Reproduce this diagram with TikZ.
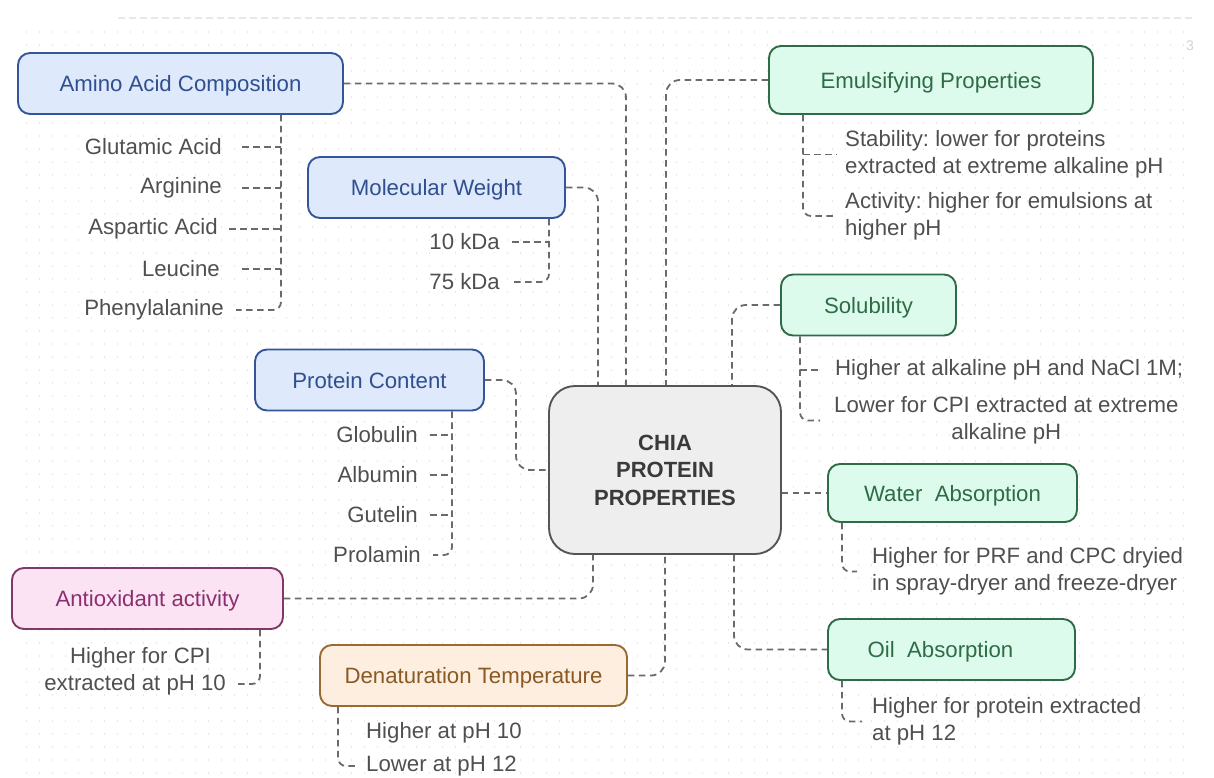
\documentclass[tikz,border=0pt]{standalone}
\usepackage{fontspec}
\setmainfont{Liberation Sans}
\definecolor{blueFill}{HTML}{DFE9FC}
\definecolor{blueLine}{HTML}{34559A}
\definecolor{blueText}{HTML}{2F4F8F}
\definecolor{greenFill}{HTML}{DDFBEC}
\definecolor{greenLine}{HTML}{2F6B47}
\definecolor{greenText}{HTML}{2F6B47}
\definecolor{pinkFill}{HTML}{FCE3F3}
\definecolor{pinkLine}{HTML}{7E3A66}
\definecolor{pinkText}{HTML}{8A3070}
\definecolor{peachFill}{HTML}{FDEEDF}
\definecolor{peachLine}{HTML}{9A6A33}
\definecolor{peachText}{HTML}{8A5A25}
\definecolor{hubFill}{HTML}{EEEEEE}
\definecolor{hubLine}{HTML}{555555}
\definecolor{hubText}{HTML}{3A3A3A}
\definecolor{leafText}{HTML}{4F4F4F}
\definecolor{wireGray}{HTML}{6A6A6A}
\definecolor{dotGray}{HTML}{E8E8E8}
\frenchspacing
\begin{document}
\begin{tikzpicture}[x=1pt,y=-1pt,
  font=\fontsize{22.2}{27}\selectfont,
  topic/.style={draw, line width=1.9pt, rounded corners=12pt, minimum height=61pt, inner sep=0pt, text depth=0pt},
  bluebox/.style={topic, fill=blueFill, draw=blueLine, text=blueText},
  greenbox/.style={topic, fill=greenFill, draw=greenLine, text=greenText},
  pinkbox/.style={topic, fill=pinkFill, draw=pinkLine, text=pinkText},
  peachbox/.style={topic, fill=peachFill, draw=peachLine, text=peachText},
  hub/.style={draw=hubLine, fill=hubFill, line width=1.9pt, rounded corners=26pt,
    text=hubText, font=\fontsize{22}{27.5}\selectfont\bfseries, align=center,
    minimum width=232pt, minimum height=168pt, inner sep=0pt},
  leaf/.style={text=leafText, inner sep=0pt},
  conn/.style={draw=wireGray, line width=1.8pt, dash pattern=on 6.5pt off 4.5pt, rounded corners=14pt},
  twig/.style={draw=wireGray, line width=1.8pt, dash pattern=on 6.5pt off 4.5pt, rounded corners=8pt},
  gridrow/.style={draw=dotGray, line width=1.3pt, dash pattern=on 1.3pt off 11.7pt}
]
\useasboundingbox (0,0) rectangle (1214,778);

% dotted canvas grid and header rule
\foreach \yy in {32,45,...,776} \draw[gridrow] (26,\yy) -- (1196,\yy);
\draw[draw=dotGray, line width=1.5pt, dash pattern=on 7pt off 4pt] (118,18) -- (1196,18);
\node[text=dotGray!80!gray, font=\fontsize{14}{14}\selectfont] (pagenum) at (1190,46) {3};

% central hub
\node[hub] (chia) at (665,470) {CHIA\\PROTEIN\\PROPERTIES};

% topic boxes
\node[bluebox, minimum width=325pt] (amino) at (180.5,83.5) {Amino Acid Composition};
\node[bluebox, minimum width=257pt] (mw) at (436.5,187.5) {Molecular Weight};
\node[bluebox, minimum width=229pt] (pc) at (369.5,380) {Protein Content};
\node[pinkbox, minimum width=271pt] (anti) at (147.5,598.5) {Antioxidant activity};
\node[peachbox, minimum width=307pt] (den) at (473.5,675.5) {Denaturation Temperature};
\node[greenbox, minimum width=324pt, minimum height=68pt] (emul) at (931,80) {Emulsifying Properties};
\node[greenbox, minimum width=175pt] (sol) at (868.5,305) {Solubility};
\node[greenbox, minimum width=249pt, minimum height=58pt] (water) at (952.5,493) {Water\ \ Absorption};
\node[greenbox, minimum width=247pt] (oil) at (951.5,649.5) {Oil\ \ Absorption\hspace*{22pt}};

% links from topics to the hub
\draw[conn] (amino.east) -| ([xshift=-39pt]chia.north);
\draw[conn] (mw.east) -| ([xshift=-67pt]chia.north);
\draw[conn] (pc.east) -| (516,430) |- (chia.west);
\draw[conn] (emul.west) -| ([xshift=1pt]chia.north);
\draw[conn] (sol.west) -| ([xshift=67pt]chia.north);
\draw[conn] (chia.east |- water.west) -- (water.west);
\draw[conn] ([xshift=69pt]chia.south) |- (oil.west);
\draw[conn] (anti.east) -| ([xshift=-72pt]chia.south);
\draw[conn] (den.east) -| (chia.south);

% amino acids
\node[leaf, anchor=east] (glu) at (222,147) {Glutamic Acid};
\node[leaf, anchor=east] (arg) at (222,188) {Arginine};
\node[leaf, anchor=east] (asp) at (218,229) {Aspartic Acid};
\node[leaf, anchor=east] (leu) at (220,269) {Leucine};
\node[leaf, anchor=east] (phe) at (224,310) {Phenylalanine};
\coordinate (aminoT) at ([xshift=100.5pt]amino.south);
\draw[twig] (aminoT) |- ([xshift=12pt]phe.east);
\draw[twig] ([xshift=20pt]glu.east) -- (glu.east -| aminoT);
\draw[twig] ([xshift=20pt]arg.east) -- (arg.east -| aminoT);
\draw[twig] ([xshift=11pt]asp.east) -- (asp.east -| aminoT);
\draw[twig] ([xshift=22pt]leu.east) -- (leu.east -| aminoT);

% molecular weight
\node[leaf, anchor=east] (k10) at (500,242) {10 kDa};
\node[leaf, anchor=east] (k75) at (500,282) {75 kDa};
\coordinate (mwT) at ([xshift=112.5pt]mw.south);
\draw[twig] (mwT) |- ([xshift=10pt]k75.east);
\draw[twig] ([xshift=12pt]k10.east) -- (k10.east -| mwT);

% protein fractions
\node[leaf, anchor=east] (glob) at (418,435) {Globulin};
\node[leaf, anchor=east] (alb) at (418,475) {Albumin};
\node[leaf, anchor=east] (gut) at (418,515) {Gutelin};
\node[leaf, anchor=east] (prol) at (421,555) {Prolamin};
\coordinate (pcT) at ([xshift=82.5pt]pc.south);
\draw[twig] (pcT) |- ([xshift=12pt]prol.east);
\draw[twig] ([xshift=12pt]glob.east) -- (glob.east -| pcT);
\draw[twig] ([xshift=12pt]alb.east) -- (alb.east -| pcT);
\draw[twig] ([xshift=12pt]gut.east) -- (gut.east -| pcT);

% antioxidant activity
\node[leaf, anchor=east, align=right] (antiT) at (226,671) {Higher for CPI\hspace*{15pt}\\extracted at pH 10};
\coordinate (antiTr) at ([xshift=112.5pt]anti.south);
\draw[twig] (antiTr) |- ([shift={(12pt,-13pt)}]antiT.east);

% denaturation temperature
\node[leaf, anchor=west] (dHi) at (366,733) {Higher at pH 10};
\node[leaf, anchor=west] (dLo) at (366,766) {Lower at pH 12};
\coordinate (denT) at ([xshift=-135.5pt]den.south);
\draw[twig] (denT) |- ([xshift=-8pt]dLo.west);

% emulsifying properties
\node[leaf, anchor=west, align=left] (stab) at (845,154.5) {Stability: lower for proteins\\extracted at extreme alkaline pH};
\node[leaf, anchor=west, align=left] (act) at (845,216) {Activity: higher for emulsions at\\higher pH};
\coordinate (emulT) at ([xshift=-128pt]emul.south);
\draw[twig] (emulT) |- ([xshift=-10pt]act.west);
\draw[twig] (stab.west -| emulT) -- ([xshift=-8pt]stab.west);

% solubility
\node[leaf, anchor=west] (sHi) at (835,370) {Higher at alkaline pH and NaCl 1M;};
\node[leaf, anchor=west, align=center] (sLo) at (834,420.5) {Lower for CPI extracted at extreme\\alkaline pH};
\coordinate (solT) at ([xshift=-68.5pt]sol.south);
\draw[twig] (solT) |- ([xshift=-14pt]sLo.west);
\draw[twig] (sHi.west -| solT) -- ([xshift=-13pt]sHi.west);

% water absorption
\node[leaf, anchor=west, align=left] (wTxt) at (872,571.5) {Higher for PRF and CPC dryied\\in spray-dryer and freeze-dryer};
\coordinate (waterT) at ([xshift=-110.5pt]water.south);
\draw[twig] (waterT) |- ([xshift=-15pt]wTxt.west);

% oil absorption
\node[leaf, anchor=west, align=left] (oTxt) at (872,721.5) {Higher for protein extracted\\at pH 12};
\coordinate (oilT) at ([xshift=-109.5pt]oil.south);
\draw[twig] (oilT) |- ([xshift=-10pt]oTxt.west);
\end{tikzpicture}
\end{document}
